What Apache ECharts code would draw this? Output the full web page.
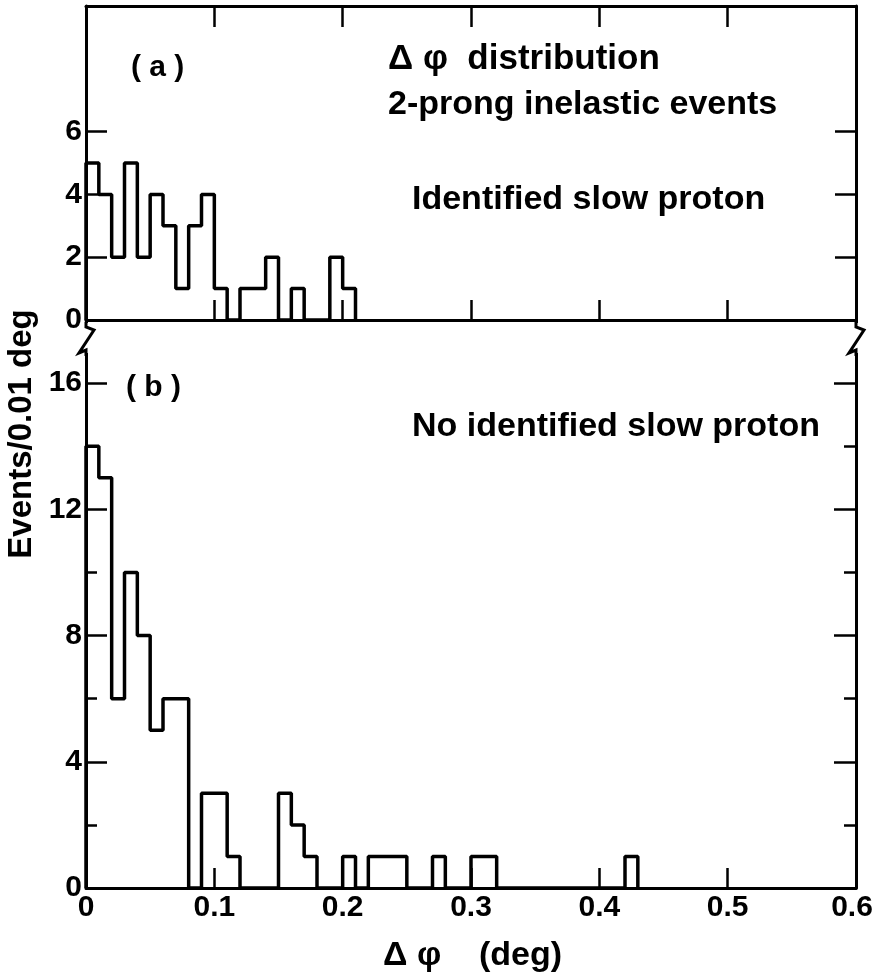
<!DOCTYPE html>
<html><head><meta charset="utf-8">
<script src="https://cdn.jsdelivr.net/npm/echarts@6/dist/echarts.min.js"></script>
<style>html,body{margin:0;padding:0;background:#fff}#c{width:873px;height:979px}</style>
</head><body><div id="c"></div>
<script>
// ---- data ----
const binWidth = 0.01;
const countsA = [5,4,2,5,2,4,3,1,3,4,1,0,1,1,2,0,1,0,0,2,1];
const countsB = [14,13,6,10,8,5,6,6,0,3,3,1,0,0,0,3,2,1,0,0,1,0,1,1,1,0,0,1,0,0,1,1,0,0,0,0,0,0,0,0,0,0,1];
const xTickValues = [0,0.1,0.2,0.3,0.4,0.5,0.6];
const yLabelsA = [0,2,4,6];
const yTicksA = [2,4,6];
const yLabelsB = [0,4,8,12,16];
const yMajorTicksB = [4,8,12,16];
const yMinorTicksB = [2,6,10,14];

function stepPoints(counts){
  const pts = [[0,0]];
  counts.forEach((c,i)=>pts.push([+(i*binWidth).toFixed(4), c]));
  pts.push([+(counts.length*binWidth).toFixed(4), 0]);
  return pts;
}

const FONT = '"Liberation Sans", Arial, sans-serif';
const BLK = '#000';
const G0 = {left:86, right:17, top:6, height:314, outerBoundsMode:'none', containLabel:false};
const G1 = {left:86, right:17, top:320, height:568, outerBoundsMode:'none', containLabel:false};
const xMaxVal = xTickValues[xTickValues.length-1];

function xAx(grid, pos, showLabel, tickLen){
  return {
    type:'value', gridIndex:grid, position:pos, min:0, max:xMaxVal,
    axisLine:{show:true, onZero:false, lineStyle:{color:BLK, width:3}},
    axisTick:{show:true, inside:true, length:tickLen, customValues:xTickValues, lineStyle:{color:BLK, width:2.5}},
    axisLabel:{show:showLabel, customValues:xTickValues, margin:5, color:BLK,
      fontFamily:FONT, fontWeight:'bold', fontSize:30, hideOverlap:false,
      formatter:v=> v===0 ? '0' : (Math.abs(v-xMaxVal)<1e-9 ? '{r|'+(+v).toFixed(1)+'}' : (+v).toFixed(1)),
      rich:{r:{fontFamily:FONT, fontWeight:'bold', fontSize:30, color:BLK, padding:[0,8,0,0]}}},
    splitLine:{show:false}
  };
}
function yAx(grid, pos, max, ticks, tickLen, labels, showLine){
  return {
    type:'value', gridIndex:grid, position:pos, min:0, max:max,
    axisLine:{show:showLine, onZero:false, lineStyle:{color:BLK, width:3}},
    axisTick:{show:true, inside:true, length:tickLen, customValues:ticks, lineStyle:{color:BLK, width:2.5}},
    axisLabel:{show:!!labels, customValues:labels||[], margin:4, color:BLK,
      fontFamily:FONT, fontWeight:'bold', fontSize:30},
    splitLine:{show:false}
  };
}

const chart = echarts.init(document.getElementById('c'), null, {renderer:'canvas'});

const xL = G1.left, xR = 873 - G1.right;
function breakMark(x){
  return [
    {type:'rect', shape:{x:x-4, y:323, width:8, height:30}, style:{fill:'#fff'}, z:100},
    {type:'polyline', shape:{points:[[x,322],[x,327],[x+8,330],[x-7,353],[x,350],[x,356]]},
     style:{stroke:BLK, lineWidth:3, fill:null}, z:101}
  ];
}
function txt(text, x, y, size, extra){
  return Object.assign({type:'text', x:x, y:y, z:50,
    style:{text:text, fill:BLK, font:'bold '+size+'px '+FONT, textAlign:'left', textVerticalAlign:'middle'}}, extra||{});
}

chart.setOption({
  backgroundColor:'#fff',
  animation:false,
  grid:[G0, G1],
  xAxis:[ xAx(0,'bottom',false,20), xAx(0,'top',false,21), xAx(1,'bottom',true,20) ],
  yAxis:[
    yAx(0,'left',10,yTicksA,21,yLabelsA,true),
    yAx(0,'right',10,yTicksA,21,null,true),
    yAx(1,'left',18,yMajorTicksB,21,yLabelsB,true),
    yAx(1,'left',18,yMinorTicksB,11,null,false),
    yAx(1,'right',18,yMajorTicksB,22,null,true),
    yAx(1,'right',18,yMinorTicksB,12,null,false)
  ],
  series:[
    {type:'line', xAxisIndex:0, yAxisIndex:0, data:stepPoints(countsA), step:'end', symbol:'none',
     lineStyle:{color:BLK, width:3.5}, z:5},
    {type:'line', xAxisIndex:2, yAxisIndex:2, data:stepPoints(countsB), step:'end', symbol:'none',
     lineStyle:{color:BLK, width:3.5}, z:5}
  ],
  graphic:[
    ...breakMark(xL), ...breakMark(xR),
    txt('( a )', 131, 68, 30),
    txt('Δ φ  distribution', 388, 59, 35),
    txt('2-prong inelastic events', 388, 105, 34),
    txt('Identified slow proton', 412, 200, 34),
    txt('( b )', 126, 388, 30),
    txt('No identified slow proton', 412, 427, 34),
    txt('Δ φ    (deg)', 383, 956, 34),
    {type:'text', x:22, y:434, rotation:Math.PI/2, z:50,
     style:{text:'Events/0.01 deg', fill:BLK, font:'bold 33px '+FONT, textAlign:'center', textVerticalAlign:'middle'}}
  ]
});
</script></body></html>
